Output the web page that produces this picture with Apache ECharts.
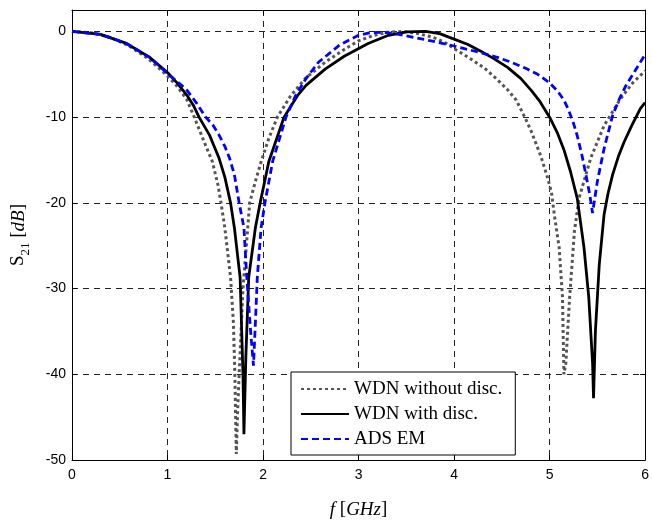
<!DOCTYPE html>
<html>
<head>
<meta charset="utf-8">
<script src="https://cdn.jsdelivr.net/npm/echarts@6/dist/echarts.min.js"></script>
<style>
html,body{margin:0;padding:0;background:#fff;}
#chart{width:652px;height:524px;}
</style>
</head>
<body>
<div id="chart"></div>
<script>
// ---- data ----
var xTicks = [0, 1, 2, 3, 4, 5, 6];
var yTicks = [0, -10, -20, -30, -40, -50];
var seriesNames = ['WDN without disc.', 'WDN with disc.', 'ADS EM'];

var fWithout = [0, 0.2, 0.4, 0.6, 0.8, 1.0, 1.1, 1.2, 1.28, 1.37, 1.47, 1.53, 1.56, 1.6, 1.66, 1.69, 1.705, 1.72, 1.735, 1.75, 1.79, 1.84, 1.86, 1.92, 1.98, 2.06, 2.15, 2.29, 2.45, 2.65, 2.85, 3.0, 3.15, 3.3, 3.45, 3.6, 3.75, 3.83, 3.92, 4.0, 4.16, 4.32, 4.45, 4.56, 4.65, 4.74, 4.81, 4.91, 4.98, 5.02, 5.05, 5.10, 5.135, 5.15, 5.17, 5.21, 5.26, 5.31, 5.43, 5.57, 5.74, 5.87, 6.0];
var sWithout = [0, -0.15, -0.7, -1.7, -3.2, -5.2, -6.4, -7.9, -10, -12.5, -15.2, -18, -20, -22.9, -28.7, -34, -40, -49.3, -44, -40, -30, -22.9, -20, -17.5, -15.2, -12.5, -10, -7.5, -5.4, -3.6, -2.1, -1.1, -0.5, -0.1, 0, -0.2, -0.6, -0.9, -1.4, -2.0, -3.1, -4.3, -5.6, -6.8, -8.0, -10, -11.7, -14.6, -17.1, -18.8, -21.4, -25.2, -31, -40, -38.7, -31, -23.3, -19.4, -14.8, -11, -7.9, -6.0, -4.6];

var fWith = [0, 0.3, 0.57, 0.81, 1.0, 1.1, 1.2, 1.27, 1.33, 1.44, 1.54, 1.6, 1.66, 1.70, 1.76, 1.79, 1.80, 1.82, 1.85, 1.92, 1.97, 2.06, 2.22, 2.36, 2.45, 2.65, 2.85, 3.1, 3.3, 3.5, 3.7, 3.85, 4.0, 4.14, 4.28, 4.42, 4.56, 4.7, 4.81, 4.9, 5.0, 5.08, 5.15, 5.22, 5.29, 5.36, 5.41, 5.45, 5.46, 5.48, 5.52, 5.57, 5.61, 5.66, 5.72, 5.78, 5.86, 5.95, 6.0];
var sWith = [0, -0.35, -1.4, -3.0, -4.8, -6.0, -7.4, -8.6, -10, -12.1, -14.8, -17, -20, -22.9, -28.7, -40, -47, -38, -28.7, -22.9, -20, -15.2, -10, -7.5, -6.3, -4.4, -2.9, -1.4, -0.5, -0.05, 0, -0.25, -0.9, -1.5, -2.3, -3.2, -4.2, -5.5, -6.9, -8.2, -10, -11.8, -13.8, -16.4, -19.5, -25.2, -31, -38.7, -42.8, -34.9, -27.2, -21.4, -19, -16.7, -14.6, -12.9, -11, -9.0, -8.3];

var fAds = [0, 0.3, 0.57, 0.81, 1.0, 1.2, 1.3, 1.40, 1.48, 1.54, 1.6, 1.65, 1.7, 1.75, 1.80, 1.83, 1.87, 1.90, 1.92, 1.94, 1.98, 2.02, 2.10, 2.24, 2.34, 2.45, 2.58, 2.8, 3.0, 3.1, 3.2, 3.3, 3.42, 3.6, 3.76, 4.0, 4.25, 4.46, 4.6, 4.75, 4.875, 5.0, 5.08, 5.15, 5.2, 5.25, 5.29, 5.34, 5.38, 5.42, 5.45, 5.5, 5.57, 5.66, 5.73, 5.8, 5.9, 6.0];
var sAds = [0, -0.35, -1.4, -3.0, -4.9, -6.8, -8.3, -10, -11, -12.1, -13.4, -14.8, -16.7, -20, -22.9, -28.7, -35, -39, -34, -28.7, -22.9, -20, -15.2, -10, -7.5, -5.5, -3.6, -1.6, -0.45, -0.2, -0.1, -0.15, -0.35, -0.75, -1.1, -1.7, -2.4, -3.05, -3.6, -4.3, -5.0, -6.0, -6.9, -8.0, -9.2, -10.7, -12.2, -14.5, -16.7, -19, -21.2, -17.5, -13.7, -9.8, -7.9, -6.3, -4.5, -2.7];

function pairs(xs, ys) { return xs.map(function (x, i) { return [x, ys[i]]; }); }

var serif = 'Liberation Serif, Times New Roman, serif';
var sans = 'Liberation Sans, Arial, sans-serif';

var chart = echarts.init(document.getElementById('chart'), null, {renderer: 'canvas'});
var gridLine = {show: true, lineStyle: {color: '#222', type: [6, 5], width: 1}};
var option = {
  animation: false,
  backgroundColor: '#fff',
  grid: {left: 72, right: 4, top: 10, bottom: 60, containLabel: false},
  legend: {
    data: seriesNames,
    orient: 'vertical',
    left: 291, top: 372,
    backgroundColor: '#fff',
    borderColor: '#000', borderWidth: 1, borderRadius: 0,
    padding: [7, 13, 6, 9],
    itemWidth: 48, itemHeight: 14, itemGap: 5,
    itemStyle: {opacity: 0},
    textStyle: {fontFamily: serif, fontSize: 19, color: '#000', lineHeight: 20}
  },
  xAxis: [{
    type: 'value', min: 0, max: 6, interval: 1,
    axisLine: {show: true, onZero: false, lineStyle: {color: '#000', width: 1}},
    axisTick: {show: true, inside: true, length: 5, lineStyle: {color: '#000'}},
    axisLabel: {fontFamily: sans, fontSize: 14, color: '#000', margin: 8,
      formatter: function (v) { return xTicks.indexOf(v) >= 0 ? String(v) : ''; }},
    splitLine: gridLine,
    name: '{i|f} [{i|GHz}]', nameLocation: 'middle', nameGap: 40,
    nameTextStyle: {fontFamily: serif, fontSize: 19, color: '#000',
      rich: {i: {fontFamily: serif, fontStyle: 'italic', fontSize: 19, color: '#000'}}}
  }, {
    type: 'value', min: 0, max: 6, interval: 1, position: 'top',
    axisLine: {show: true, onZero: false, lineStyle: {color: '#000', width: 1}},
    axisTick: {show: true, inside: true, length: 5, lineStyle: {color: '#000'}},
    axisLabel: {show: false}, splitLine: {show: false}
  }],
  yAxis: [{
    type: 'value', min: -50, max: 2.5, interval: 10,
    axisLine: {show: true, onZero: false, lineStyle: {color: '#000', width: 1}},
    axisTick: {show: true, inside: true, length: 5, lineStyle: {color: '#000'}},
    axisLabel: {fontFamily: sans, fontSize: 14, color: '#000', margin: 6, showMaxLabel: false,
      formatter: function (v) { return yTicks.indexOf(v) >= 0 ? String(v) : ''; }},
    splitLine: gridLine,
    name: '{s|S}{sub|21} [{i|dB}]', nameLocation: 'middle', nameGap: 44, nameRotate: 90,
    nameTextStyle: {fontFamily: serif, fontSize: 19, color: '#000',
      rich: {
        s: {fontFamily: serif, fontSize: 19, color: '#000', verticalAlign: 'bottom'},
        sub: {fontFamily: serif, fontSize: 13, color: '#000', verticalAlign: 'bottom', padding: [0, 0, -4, 0]},
        i: {fontFamily: serif, fontStyle: 'italic', fontSize: 19, color: '#000', verticalAlign: 'bottom'}
      }}
  }, {
    type: 'value', min: -50, max: 2.5, interval: 10, position: 'right',
    axisLine: {show: true, onZero: false, lineStyle: {color: '#000', width: 1}},
    axisTick: {show: true, inside: true, length: 5, lineStyle: {color: '#000'}},
    axisLabel: {show: false}, splitLine: {show: false}
  }],
  series: [{
    name: seriesNames[0], type: 'line', symbol: 'none', smooth: false,
    data: pairs(fWithout, sWithout),
    itemStyle: {color: '#555'},
    lineStyle: {color: '#555', width: 3, type: [3, 3]}
  }, {
    name: seriesNames[1], type: 'line', symbol: 'none', smooth: false,
    data: pairs(fWith, sWith),
    itemStyle: {color: '#000'},
    lineStyle: {color: '#000', width: 2.8, type: 'solid'}
  }, {
    name: seriesNames[2], type: 'line', symbol: 'none', smooth: false,
    data: pairs(fAds, sAds),
    itemStyle: {color: '#0000ff'},
    lineStyle: {color: '#0000ff', width: 2.8, type: [7, 4]}
  }]
};
chart.setOption(option);
</script>
</body>
</html>
